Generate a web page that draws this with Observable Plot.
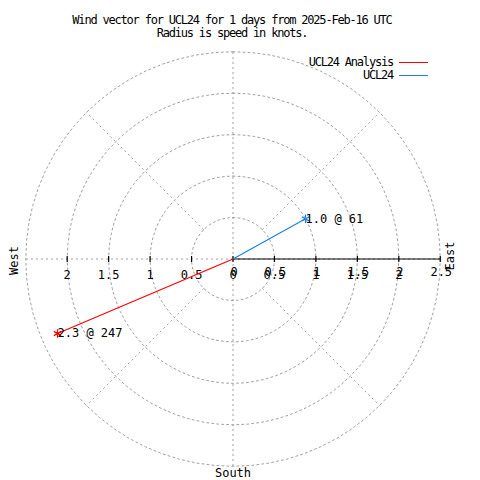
<!DOCTYPE html>
<html>
<head>
<meta charset="utf-8">
<script src="https://cdn.jsdelivr.net/npm/d3@7"></script>
<script src="https://cdn.jsdelivr.net/npm/@observablehq/plot@0.6"></script>
<style>
  html, body { margin: 0; padding: 0; background: #fff; }
  #wrap { position: relative; width: 480px; height: 480px; overflow: hidden; font-family: "DejaVu Sans Mono", monospace; }
  #title { height: 40px; width: 464px; text-align: center; font-size: 12px; letter-spacing: -1.2px; line-height: 13px; padding-top: 14px; box-sizing: border-box; color: #000; }
  #legend { position: absolute; top: 56px; right: 52px; font-size: 12px; letter-spacing: -1.2px; line-height: 13px; }
  .lg { display: flex; justify-content: flex-end; align-items: center; height: 13px; }
  .lg span.sw { display: inline-block; width: 29px; height: 0; margin-left: 6px; border-top: 1px solid; }
  svg text { font-family: "DejaVu Sans Mono", monospace; }
</style>
</head>
<body>
<div id="wrap">
  <div id="title"></div>
  <div id="legend"></div>
  <div id="chart"></div>
</div>
<script>
const titleLines = ["Wind vector for UCL24 for 1 days from 2025-Feb-16 UTC", "Radius is speed in knots."];
const seriesNames = ["UCL24 Analysis", "UCL24"];
const speeds = [2.3, 1.0];
const directions = [247, 61];
const seriesColors = ["#ff0000", "#1a80ec"];
const gridRadii = [0.5, 1, 1.5, 2, 2.5];
const spokeAngles = [0, 45, 90, 135, 180, 225, 270, 315];
const xTicks = [-2, -1.5, -1, -0.5, 0, 0.5, 1, 1.5, 2];
const xTickLabels = ["2", "1.5", "1", "0.5", "0", "0.5", "1", "1.5", "2"];
const rTicks = [0, 0.5, 1, 1.5, 2, 2.5];
const rTickLabels = ["0", "0.5", "1", "1.5", "2", "2.5"];
const compass = [
  {name: "West", angle: 270},
  {name: "East", angle: 90},
  {name: "South", angle: 180}
];

document.getElementById("title").innerHTML = titleLines.map(t => `<div>${t}</div>`).join("");
document.getElementById("legend").innerHTML = seriesNames.map((n, i) =>
  `<div class="lg"><span>${n}</span><span class="sw" style="border-color:${seriesColors[i]}"></span></div>`).join("");

const rad = a => a * Math.PI / 180;
const rMax = d3.max(gridRadii);

const circlePts = gridRadii.flatMap(r => d3.range(0, 361, 5).map(a => ({r, x: r * Math.sin(rad(a)), y: r * Math.cos(rad(a))})));
const spokes = spokeAngles.map(a => {
  const r0 = a % 90 === 0 ? 0 : gridRadii[0];
  return {x1: r0 * Math.sin(rad(a)), y1: r0 * Math.cos(rad(a)), x2: rMax * Math.sin(rad(a)), y2: rMax * Math.cos(rad(a))};
});
const vectors = seriesNames.map((name, i) => ({
  name, color: seriesColors[i],
  x: speeds[i] * Math.sin(rad(directions[i])), y: speeds[i] * Math.cos(rad(directions[i])),
  label: `${speeds[i].toFixed(1)} @ ${directions[i]}`
}));
const allTicks = Array.from(new Set([...xTicks, ...rTicks])).map(t => ({t}));
const compassPts = compass.map(c => ({...c, x: rMax * Math.sin(rad(c.angle)), y: rMax * Math.cos(rad(c.angle))}));
const xLab = xTicks.map((t, i) => ({t, label: xTickLabels[i]}));
const rLab = rTicks.map((t, i) => ({t, label: rTickLabels[i]}));
const axisLine = [{x1: 0, x2: rMax}];

const grid = {stroke: "#a0a0a0", strokeWidth: 1, strokeDasharray: "2,3"};
const fontOpts = {fontSize: 12, fill: "#000", letterSpacing: "-1.2px"};
const tickHalf = 3 / 83; // tick half-length in data units

const chart = Plot.plot({
  width: 480, height: 440,
  marginLeft: 25.25, marginRight: 40.25, marginTop: 11.25, marginBottom: 14.25,
  x: {type: "linear", domain: [-rMax, rMax], axis: null},
  y: {type: "linear", domain: [-rMax, rMax], axis: null},
  style: {background: "#fff", overflow: "visible"},
  marks: [
    Plot.line(circlePts, {x: "x", y: "y", z: "r", ...grid}),
    Plot.link(spokes, {x1: "x1", y1: "y1", x2: "x2", y2: "y2", ...grid}),
    Plot.link(axisLine, {x1: "x1", x2: "x2", y1: () => 0, y2: () => 0, stroke: "#000", strokeWidth: 1.2}),
    Plot.link(allTicks, {x1: "t", x2: "t", y1: () => -tickHalf, y2: () => tickHalf, stroke: "#000", strokeWidth: 1.2}),
    Plot.text(xLab, {x: "t", y: () => 0, text: "label", dy: 16, ...fontOpts}),
    Plot.text(rLab, {x: "t", y: () => 0, text: "label", dy: 13, dx: 1, ...fontOpts}),
    Plot.link(vectors, {x1: () => 0, y1: () => 0, x2: "x", y2: "y", stroke: "color", strokeWidth: 1.2}),
    Plot.dot(vectors, {x: "x", y: "y", symbol: "asterisk", r: 4, stroke: "color", strokeWidth: 1.2}),
    Plot.text(vectors, {x: "x", y: "y", text: "label", textAnchor: "start", dx: 0, ...fontOpts}),
    Plot.text(compassPts.filter(c => c.name === "West"), {x: "x", y: "y", text: "name", rotate: -90, dx: -11.5, dy: 1.5, ...fontOpts}),
    Plot.text(compassPts.filter(c => c.name === "East"), {x: "x", y: "y", text: "name", rotate: -90, dx: 9.5, dy: -3, ...fontOpts}),
    Plot.text(compassPts.filter(c => c.name === "South"), {x: "x", y: "y", text: "name", dy: 6.5, ...fontOpts})
  ]
});
document.getElementById("chart").appendChild(chart);
</script>
</body>
</html>
